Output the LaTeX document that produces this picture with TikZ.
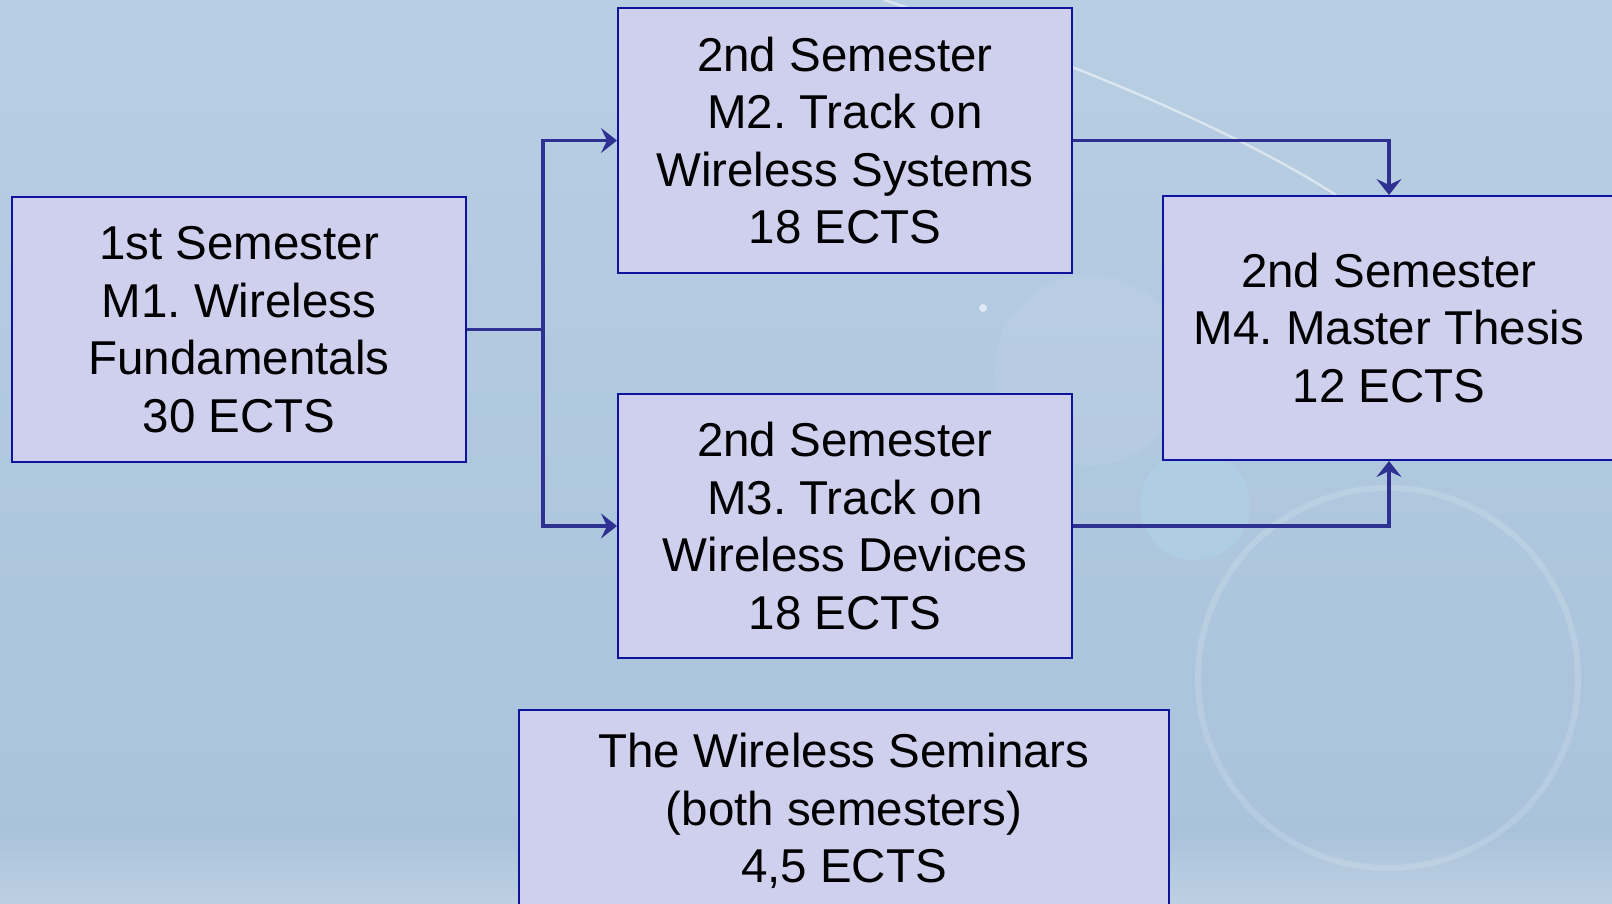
\documentclass[tikz,border=0pt]{standalone}
\usepackage{fontspec}
\setmainfont{Liberation Sans}
\usetikzlibrary{arrows.meta}
\frenchspacing
\definecolor{bgtop}{HTML}{B8CEE3}
\definecolor{bgbot}{HTML}{A9C2DA}
\definecolor{boxfill}{HTML}{CFCFEE}
\definecolor{boxline}{HTML}{0F129A}
\definecolor{arrcol}{HTML}{2E3192}
\tikzset{
  modbox/.style={draw=boxline, fill=boxfill, line width=1pt, inner sep=0pt,
    align=center, font=\fontsize{23.75}{28.75}\selectfont},
  flow/.style={draw=arrcol, line width=1.6pt, -{Stealth[length=8pt,width=12.5pt,inset=3pt]}},
  link/.style={draw=arrcol, line width=1.6pt}
}
\begin{document}
\begin{tikzpicture}[x=0.5pt,y=-0.5pt]
\useasboundingbox (0,0) rectangle (1612,904);
% background
\shade[top color=bgtop, bottom color=bgbot] (0,0) rectangle (1612,904);
\shade[top color=bgbot, bottom color=white!40!bgbot, opacity=0.6] (0,830) rectangle (1612,904);
\draw[white, opacity=0.5, line width=1.2pt] (884,0) .. controls (1100,70) and (1250,140) .. (1336,195);
\draw[white, opacity=0.15, line width=3pt] (1388,678) circle[radius=190];
\fill[white, opacity=0.07] (1090,370) circle[radius=95];
\fill[cyan!30, opacity=0.2] (1195,505) circle[radius=55];
\fill[white, opacity=0.6] (983,308) circle[radius=4];
% nodes
\node[modbox, minimum width=227pt, minimum height=132.5pt] (m1) at (239,329.5)
  {1st Semester\\M1. Wireless\\Fundamentals\\30 ECTS};
\node[modbox, minimum width=227pt, minimum height=132.5pt] (m2) at (845,140.5)
  {2nd Semester\\M2. Track on\\Wireless Systems\\18 ECTS};
\node[modbox, minimum width=227pt, minimum height=132pt] (m3) at (845,526)
  {2nd Semester\\M3. Track on\\Wireless Devices\\18 ECTS};
\node[modbox, minimum width=226pt, minimum height=132pt] (m4) at (1389,328)
  {2nd Semester\\M4. Master Thesis\\12 ECTS};
\node[modbox, minimum width=325pt, minimum height=101pt] (sem) at (844,811)
  {The Wireless Seminars\\(both semesters)\\4,5 ECTS};
% connectors
\coordinate (j) at ([xshift=38pt]m1.east);
\draw[link] (m1.east) -- (j);
\draw[flow] (j) |- (m2.west);
\draw[flow] (j) |- (m3.west);
\draw[flow] (m2.east) -| (m4.north);
\draw[flow] (m3.east) -| (m4.south);
\end{tikzpicture}
\end{document}
